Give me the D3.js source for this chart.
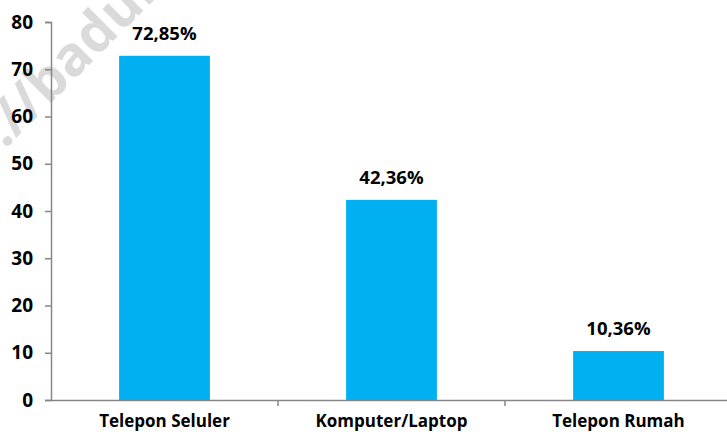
<!DOCTYPE html>
<html>
<head>
<meta charset="utf-8">
<script src="https://cdn.jsdelivr.net/npm/d3@7"></script>
<style>
  body { margin: 0; background: #fff; }
  svg { display: block; font-family: "Open Sans", sans-serif; font-weight: 700; }
</style>
</head>
<body>
<svg width="727" height="436"></svg>
<script>
var categories = ["Telepon Seluler", "Komputer/Laptop", "Telepon Rumah"];
var values = [72.85, 42.36, 10.36];
var valueLabels = ["72,85%", "42,36%", "10,36%"];
var yTicks = [0, 10, 20, 30, 40, 50, 60, 70, 80];

var svg = d3.select("svg");
var margin = {left: 51, top: 22, right: -5, bottom: 36};
var width = +svg.attr("width") - margin.left - margin.right;
var height = +svg.attr("height") - margin.top - margin.bottom;
var font = "'Open Sans', sans-serif";

// watermark
var wm = svg.append("text")
    .attr("fill", "#dadada")
    .attr("font-size", 55)
    .attr("font-family", font)
    .attr("font-weight", 700)
    .text("https://badungkab.bps.go.id");
var skip = wm.node().getSubStringLength(0, 8);
wm.attr("transform", "translate(48,106) rotate(-45) translate(" + (-skip) + ",0)");

var g = svg.append("g").attr("transform", "translate(" + margin.left + "," + margin.top + ")");

var x = d3.scaleBand().domain(categories).range([0, width]).paddingInner(0.6).paddingOuter(0.3);
var y = d3.scaleLinear().domain([0, 80]).range([height, 0]);

g.selectAll("rect.bar")
  .data(values)
  .enter().append("rect")
    .attr("class", "bar")
    .attr("x", (d, i) => x(categories[i]))
    .attr("width", x.bandwidth())
    .attr("y", d => y(d))
    .attr("height", d => height - y(d))
    .attr("fill", "#00b0f0");

g.selectAll("text.val")
  .data(values)
  .enter().append("text")
    .attr("class", "val")
    .attr("x", (d, i) => x(categories[i]) + x.bandwidth() / 2)
    .attr("y", d => y(d) - 16)
    .attr("text-anchor", "middle")
    .attr("font-size", 18.5)
    .attr("fill", "#000")
    .text((d, i) => valueLabels[i]);

var yAxis = g.append("g")
    .call(d3.axisLeft(y).tickValues(yTicks).tickSize(6).tickPadding(12));
yAxis.select(".domain").attr("stroke", "#868686").attr("stroke-width", 1.5);
yAxis.selectAll(".tick line").attr("stroke", "#868686").attr("stroke-width", 1.5);
yAxis.selectAll(".tick text").attr("font-size", 19).attr("fill", "#000")
    .attr("font-family", font).attr("font-weight", 700);

var xAxis = g.append("g")
    .attr("transform", "translate(0," + height + ")")
    .call(d3.axisBottom(x).tickSize(0).tickPadding(15));
xAxis.select(".domain").attr("stroke", "#868686").attr("stroke-width", 1.5);
xAxis.selectAll(".tick text").attr("font-size", 17).attr("fill", "#000")
    .attr("font-family", font).attr("font-weight", 700);

// category separators
g.selectAll("line.sep")
  .data(d3.range(1, categories.length + 1))
  .enter().append("line")
    .attr("class", "sep")
    .attr("x1", i => i * width / categories.length)
    .attr("x2", i => i * width / categories.length)
    .attr("y1", height)
    .attr("y2", height + 6)
    .attr("stroke", "#868686")
    .attr("stroke-width", 1.5);
</script>
</body>
</html>
